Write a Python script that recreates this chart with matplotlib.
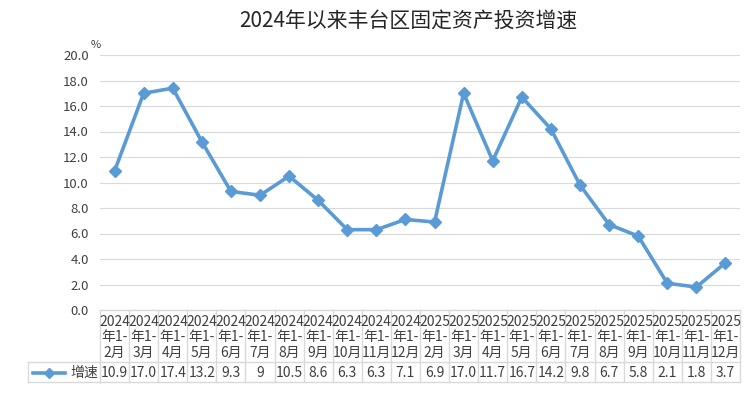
import numpy as np
import matplotlib.pyplot as plt
import matplotlib.transforms as mtransforms

plt.rcParams['font.family'] = ['Noto Sans CJK SC', 'DejaVu Sans']

# 数据
years = ["2024"] * 11 + ["2025"] * 11
months = ["2月", "3月", "4月", "5月", "6月", "7月", "8月", "9月", "10月", "11月", "12月",
          "2月", "3月", "4月", "5月", "6月", "7月", "8月", "9月", "10月", "11月", "12月"]
values = [10.9, 17.0, 17.4, 13.2, 9.3, 9.0, 10.5, 8.6, 6.3, 6.3, 7.1,
          6.9, 17.0, 11.7, 16.7, 14.2, 9.8, 6.7, 5.8, 2.1, 1.8, 3.7]
value_labels = ["10.9", "17.0", "17.4", "13.2", "9.3", "9", "10.5", "8.6", "6.3", "6.3", "7.1",
                "6.9", "17.0", "11.7", "16.7", "14.2", "9.8", "6.7", "5.8", "2.1", "1.8", "3.7"]
yticks = [0, 2, 4, 6, 8, 10, 12, 14, 16, 18, 20]

LINE_COLOR = "#5B9BD5"
TEXT_COLOR = "#404040"
GRID_COLOR = "#D9D9D9"

fig = plt.figure(figsize=(7.49, 3.97), dpi=100)
W, H = 749, 397
x0, x1, ytop, ybot = 100, 740, 55, 310
ax = fig.add_axes([x0 / W, 1 - ybot / H, (x1 - x0) / W, (ybot - ytop) / H])

n = len(values)
xs = np.arange(n)
ax.plot(xs, values, color=LINE_COLOR, linewidth=2.6, marker="D", markersize=6,
        markeredgecolor=LINE_COLOR, markerfacecolor=LINE_COLOR, zorder=3)
ax.set_xlim(-0.5, n - 0.5)
ax.set_ylim(0, 20)
ax.set_yticks(yticks)
ax.set_yticklabels(["{:.1f}".format(v) for v in yticks], fontsize=9.5, color=TEXT_COLOR)
ax.tick_params(axis="y", length=0, pad=8)
ax.set_xticks([])
for s in ax.spines.values():
    s.set_visible(False)
ax.grid(axis="y", color=GRID_COLOR, linewidth=0.8)
ax.set_axisbelow(True)

# 标题
fig.text(408 / W, 1 - 22 / H, "2024年以来丰台区固定资产投资增速", ha="center", va="center",
         fontsize=15, color="#262626")
fig.text(91 / W, 1 - 45 / H, "%", ha="left", va="center", fontsize=8, color=TEXT_COLOR)

# 数据表
tr = mtransforms.blended_transform_factory(ax.transData, fig.transFigure)
fy = lambda py: 1 - py / H
t_top, t_mid, t_bot = 310, 362, 382
leg_left = 28
lw = 1.0
for py in (t_top, t_mid, t_bot):
    ax.plot([-0.5, n - 0.5], [fy(py)] * 2, transform=tr, color=GRID_COLOR, lw=lw, clip_on=False)
fig.add_artist(plt.Line2D([leg_left / W, x0 / W], [fy(t_mid)] * 2, color=GRID_COLOR, lw=lw))
fig.add_artist(plt.Line2D([leg_left / W, x0 / W], [fy(t_bot)] * 2, color=GRID_COLOR, lw=lw))
fig.add_artist(plt.Line2D([leg_left / W] * 2, [fy(t_mid), fy(t_bot)], color=GRID_COLOR, lw=lw))
for i in range(n + 1):
    ax.plot([i - 0.5] * 2, [fy(t_top), fy(t_bot)], transform=tr, color=GRID_COLOR, lw=lw,
            clip_on=False)
for i in range(n):
    ax.text(i, fy(337.5), "{}\n年1-\n{}".format(years[i], months[i]), transform=tr,
            ha="center", va="center", fontsize=10, color=TEXT_COLOR, linespacing=1.15)
    ax.text(i, fy(373), value_labels[i], transform=tr, ha="center", va="center",
            fontsize=10, color=TEXT_COLOR)

# 图例
fig.add_artist(plt.Line2D([33 / W, 65 / W], [fy(373)] * 2, color=LINE_COLOR, lw=2.6))
fig.add_artist(plt.Line2D([49 / W], [fy(373)], color=LINE_COLOR, marker="D", markersize=5))
fig.text(70 / W, fy(373), "增速", ha="left", va="center", fontsize=10, color=TEXT_COLOR)

plt.savefig("out.png", dpi=100)
